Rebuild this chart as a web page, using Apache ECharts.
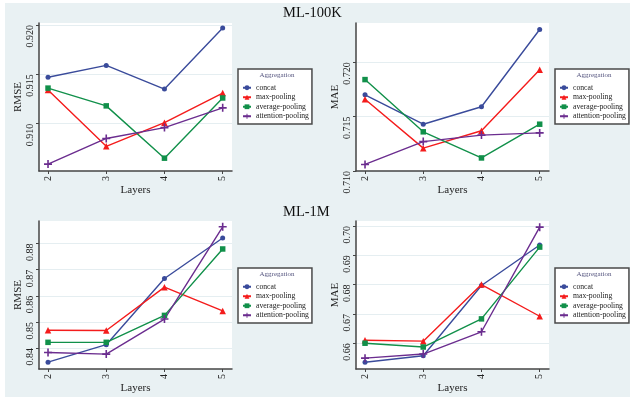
<!DOCTYPE html>
<html><head><meta charset="utf-8">
<script src="https://cdn.jsdelivr.net/npm/echarts@6/dist/echarts.min.js"></script>
<style>html,body{margin:0;padding:0;background:#fff}#c{width:634px;height:399px}</style>
</head><body><div id="c"></div>
<script>
// ---------- data ----------
const layers = [2, 3, 4, 5];
const seriesNames = ['concat', 'max-pooling', 'average-pooling', 'attention-pooling'];
const panelTitles = ['ML-100K', 'ML-1M'];
const metricNames = ['RMSE', 'MAE', 'RMSE', 'MAE'];

// ML-100K RMSE
const rmse100kConcat = [0.9147, 0.9159, 0.9135, 0.9197];
const rmse100kMax    = [0.9134, 0.9077, 0.9101, 0.9131];
const rmse100kAvg    = [0.9136, 0.9118, 0.9065, 0.9126];
const rmse100kAttn   = [0.9059, 0.9085, 0.9096, 0.9116];
// ML-100K MAE
const mae100kConcat = [0.7170, 0.7143, 0.7159, 0.7230];
const mae100kMax    = [0.7166, 0.7121, 0.7137, 0.7193];
const mae100kAvg    = [0.7184, 0.7136, 0.7112, 0.7143];
const mae100kAttn   = [0.7106, 0.7127, 0.7133, 0.7135];
// ML-1M RMSE
const rmse1mConcat = [0.8346, 0.8413, 0.8666, 0.8821];
const rmse1mMax    = [0.8468, 0.8467, 0.8633, 0.8542];
const rmse1mAvg    = [0.8422, 0.8422, 0.8525, 0.8779];
const rmse1mAttn   = [0.8383, 0.8377, 0.8511, 0.8864];
// ML-1M MAE
const mae1mConcat = [0.6535, 0.6557, 0.6797, 0.6935];
const mae1mMax    = [0.6610, 0.6607, 0.6800, 0.6692];
const mae1mAvg    = [0.6600, 0.6587, 0.6683, 0.6928];
const mae1mAttn   = [0.6549, 0.6563, 0.6639, 0.6996];

// tick labels
const yTicksRmse100k = [0.910, 0.915, 0.920];
const yTicksMae100k  = [0.710, 0.715, 0.720];
const yTicksRmse1m   = [0.84, 0.85, 0.86, 0.87, 0.88];
const yTicksMae1m    = [0.66, 0.67, 0.68, 0.69, 0.70];
const xTicks = [2, 3, 4, 5];

// ---------- styling ----------
const SERIF = '"Liberation Serif", "Times New Roman", serif';
const colors = ['#3a4b9b', '#f41c1c', '#11904a', '#6b2d8f'];
const plusPath = 'path://M4,0H6V4H10V6H6V10H4V6H0V4H4Z';
const symbols = ['circle', 'triangle', 'rect', plusPath];
const symbolSizes = [5, 6.5, 5.5, 8];

const panelData = [
  [rmse100kConcat, rmse100kMax, rmse100kAvg, rmse100kAttn],
  [mae100kConcat, mae100kMax, mae100kAvg, mae100kAttn],
  [rmse1mConcat, rmse1mMax, rmse1mAvg, rmse1mAttn],
  [mae1mConcat, mae1mMax, mae1mAvg, mae1mAttn]
];
const panelTicks = [yTicksRmse100k, yTicksMae100k, yTicksRmse1m, yTicksMae1m];
const panelDecimals = [3, 3, 2, 2];
const panelRange = [[0.9052, 0.9202], [0.7100, 0.7236], [0.8320, 0.8886], [0.6512, 0.7017]];

const gridPos = [
  {left: 39, top: 23, width: 193, height: 148},
  {left: 356, top: 23, width: 193, height: 148},
  {left: 39, top: 221, width: 193, height: 148},
  {left: 356, top: 221, width: 193, height: 148}
];
const legendPos = [
  {left: 238, top: 69}, {left: 555, top: 69},
  {left: 238, top: 268}, {left: 555, top: 268}
];

const grids = [], xAxes = [], yAxes = [], series = [], legends = [];
const titles = [
  {text: panelTitles[0], left: 283, top: 6, padding: 0, textStyle: {fontFamily: SERIF, fontSize: 14.5, fontWeight: 'normal', color: '#111'}},
  {text: panelTitles[1], left: 283, top: 205, padding: 0, textStyle: {fontFamily: SERIF, fontSize: 14.5, fontWeight: 'normal', color: '#111'}}
];

for (let p = 0; p < 4; p++) {
  grids.push(Object.assign({show: true, backgroundColor: '#ffffff', borderWidth: 0}, gridPos[p]));
  xAxes.push({
    gridIndex: p, type: 'value', min: 1.845, max: 5.16,
    name: 'Layers', nameLocation: 'middle', nameGap: 12,
    nameTextStyle: {fontFamily: SERIF, fontSize: 11, color: '#222'},
    axisLine: {show: true, onZero: false, lineStyle: {color: '#454545', width: 1.5}},
    axisTick: {show: true, length: 3, customValues: xTicks, lineStyle: {color: '#454545', width: 1}},
    axisLabel: {customValues: xTicks, rotate: 90, margin: 5, fontFamily: SERIF, fontSize: 10, color: '#222'},
    splitLine: {show: false}
  });
  const dec = panelDecimals[p];
  yAxes.push({
    gridIndex: p, type: 'value', min: panelRange[p][0], max: panelRange[p][1],
    name: metricNames[p], nameLocation: 'middle', nameRotate: 90, nameGap: 12,
    nameTextStyle: {fontFamily: SERIF, fontSize: 11, color: '#222'},
    axisLine: {show: true, lineStyle: {color: '#454545', width: 1.5}},
    axisTick: {show: true, length: 3, customValues: panelTicks[p], lineStyle: {color: '#454545', width: 1}},
    axisLabel: {customValues: panelTicks[p], rotate: 90, align: 'right', verticalAlign: 'bottom', margin: 4,
      fontFamily: SERIF, fontSize: 10, color: '#222', formatter: v => Number(v).toFixed(dec)},
    splitLine: {show: true, lineStyle: {color: '#e5eef1', width: 1.2}}
  });
  for (let s = 0; s < 4; s++) {
    series.push({
      type: 'line', name: seriesNames[s], xAxisIndex: p, yAxisIndex: p,
      data: layers.map((x, j) => [x, panelData[p][s][j]]),
      symbol: symbols[s], symbolSize: symbolSizes[s],
      itemStyle: {color: colors[s]},
      lineStyle: {color: colors[s], width: 1.4},
      z: 3
    });
  }
  legends.push({
    left: legendPos[p].left, top: legendPos[p].top, orient: 'vertical',
    data: seriesNames, backgroundColor: '#ffffff', borderColor: '#4a4a4a', borderWidth: 1.5,
    padding: [14, 3, 3, 4], itemGap: 0, itemWidth: 8, itemHeight: 6,
    textStyle: {fontFamily: SERIF, fontSize: 7.7, color: '#222', lineHeight: 9.5},
    selectedMode: false
  });
  titles.push({
    text: 'Aggregation', left: legendPos[p].left + 39, textAlign: 'center', top: legendPos[p].top + 2.5, padding: 0,
    textStyle: {fontFamily: SERIF, fontSize: 7, fontWeight: 'normal', color: '#55557f'}, z: 10
  });
}

const chart = echarts.init(document.getElementById('c'), null, {renderer: 'canvas'});
chart.setOption({
  animation: false,
  backgroundColor: '#ffffff',
  graphic: [{type: 'rect', left: 5, top: 3, shape: {width: 625, height: 394}, style: {fill: '#e9f1f3'}, z: -10, silent: true}],
  title: titles,
  grid: grids,
  xAxis: xAxes,
  yAxis: yAxes,
  legend: legends,
  series: series
});
</script>
</body></html>
